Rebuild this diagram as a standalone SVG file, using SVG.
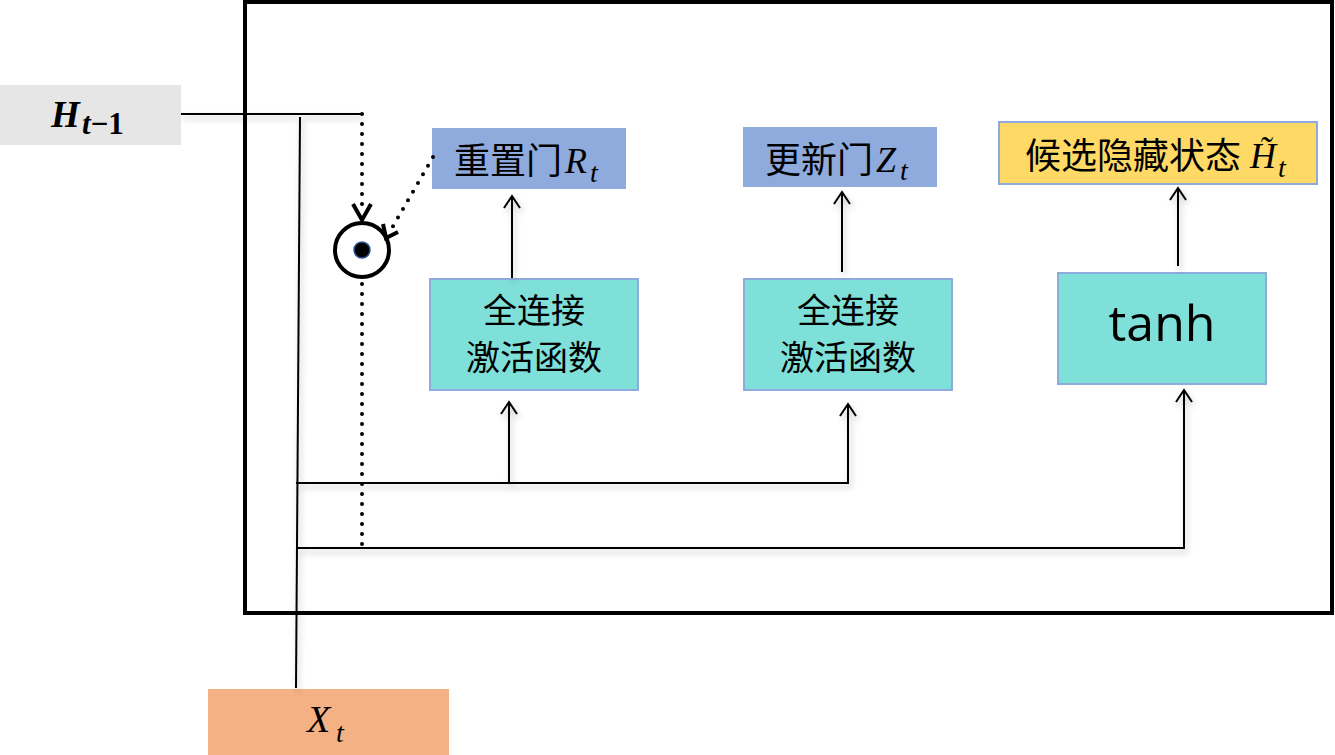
<svg xmlns="http://www.w3.org/2000/svg" width="1335" height="755" viewBox="0 0 1335 755">
<defs>
<style>
.cjk{font-family:"Noto Sans CJK SC","Noto Sans",sans-serif;fill:#000}
.m{font-family:"Liberation Serif",serif;font-style:italic;fill:#000}
.ln{fill:none;stroke:#000;stroke-width:2}
.dot{fill:none;stroke:#000;stroke-width:4;stroke-linecap:round;stroke-dasharray:0 10}
.box{stroke:#8faadc;stroke-width:2}
</style>
<filter id="sh" x="-20%" y="-20%" width="140%" height="140%">
<feGaussianBlur in="SourceAlpha" stdDeviation="3"/>
<feOffset dx="2" dy="4" result="b"/>
<feComponentTransfer><feFuncA type="linear" slope="0.25"/></feComponentTransfer>
<feMerge><feMergeNode/><feMergeNode in="SourceGraphic"/></feMerge>
</filter>
<marker id="arr" viewBox="0 0 20 20" refX="18" refY="10" markerWidth="20" markerHeight="20" markerUnits="userSpaceOnUse" orient="auto">
<path d="M6,2 L18,10 L6,18" fill="none" stroke="#000" stroke-width="2"/>
</marker>
</defs>
<rect width="1335" height="755" fill="#fff"/>
<rect id="outer" x="245" y="2" width="1087" height="611" fill="none" stroke="#000" stroke-width="4"/>

<g id="h_prev">
<rect x="0" y="85" width="181" height="60" fill="#e6e6e6"/>
<text x="51" y="127" font-family="Liberation Serif,serif" font-weight="bold" font-style="italic" font-size="37">H</text>
<text x="82" y="134" font-family="Liberation Serif,serif" font-weight="bold" font-size="31"><tspan font-style="italic">t</tspan>−1</text>
</g>

<g id="x_t">
<rect x="208" y="689" width="241" height="66" fill="#f4b183"/>
<text x="307" y="732" class="m" font-size="38">X</text>
<text x="336" y="742" class="m" font-size="28">t</text>
</g>

<g id="reset_gate">
<rect x="432" y="128" width="194" height="61" fill="#8faadc"/>
<text x="454" y="174" class="cjk" font-size="36">重置门</text>
<text x="565" y="173" class="m" font-size="36">R</text>
<text x="590" y="182" class="m" font-size="28">t</text>
</g>

<g id="update_gate">
<rect x="743" y="127" width="194" height="60" fill="#8faadc"/>
<text x="765" y="173" class="cjk" font-size="36">更新门</text>
<text x="876" y="172" class="m" font-size="36">Z</text>
<text x="900" y="180" class="m" font-size="28">t</text>
</g>

<g id="candidate">
<rect x="999" y="122" width="318" height="62" class="box" fill="#ffd966"/>
<text x="1025" y="169" class="cjk" font-size="36">候选隐藏状态</text>
<text x="1250" y="168" class="m" font-size="36">H&#x303;</text>
<text x="1278" y="177" class="m" font-size="28">t</text>
</g>

<g id="fc1">
<rect x="430" y="279" width="208" height="111" class="box" fill="#7fdfd9"/>
<text x="534" y="323" class="cjk" font-size="34" text-anchor="middle">全连接</text>
<text x="534" y="370" class="cjk" font-size="34" text-anchor="middle">激活函数</text>
</g>

<g id="fc2">
<rect x="744" y="279" width="208" height="111" class="box" fill="#7fdfd9"/>
<text x="848" y="323" class="cjk" font-size="34" text-anchor="middle">全连接</text>
<text x="848" y="370" class="cjk" font-size="34" text-anchor="middle">激活函数</text>
</g>

<g id="tanh">
<rect x="1058" y="273" width="208" height="111" class="box" fill="#7fdfd9"/>
<text x="1162" y="341" font-family="Open Sans,Noto Sans,sans-serif" font-size="50" text-anchor="middle">tanh</text>
</g>

<g id="mult">
<circle cx="362" cy="250" r="27" fill="#fff" stroke="#000" stroke-width="4"/>
<circle cx="362" cy="250" r="8" fill="#000" stroke="#2f5597" stroke-width="1.5"/>
</g>

<g id="connectors">
<g filter="url(#sh)">
<polyline class="ln" points="181,114 362,114"/>
<line class="ln" x1="300" y1="117" x2="296" y2="688"/>
<polyline class="ln" points="296,483 848,483 848,404" marker-end="url(#arr)"/>
<polyline class="ln" points="509,483 509,402" marker-end="url(#arr)"/>
<polyline class="ln" points="298,548 1184,548 1184,390" marker-end="url(#arr)"/>
<line class="ln" x1="512" y1="278" x2="512" y2="196" marker-end="url(#arr)"/>
<line class="ln" x1="842" y1="272" x2="842" y2="192" marker-end="url(#arr)"/>
<line class="ln" x1="1178" y1="266" x2="1178" y2="188" marker-end="url(#arr)"/>
</g>
<line class="dot" x1="362" y1="114" x2="362" y2="210"/>
<path d="M353,204 L362,220 L371,204" fill="none" stroke="#000" stroke-width="4"/>
<line class="dot" x1="433" y1="157" x2="392" y2="228"/>
<path d="M383,224 L386,238 L398,232" fill="none" stroke="#000" stroke-width="4"/>
<line class="dot" x1="362" y1="284" x2="362" y2="548"/>
</g>
</svg>
